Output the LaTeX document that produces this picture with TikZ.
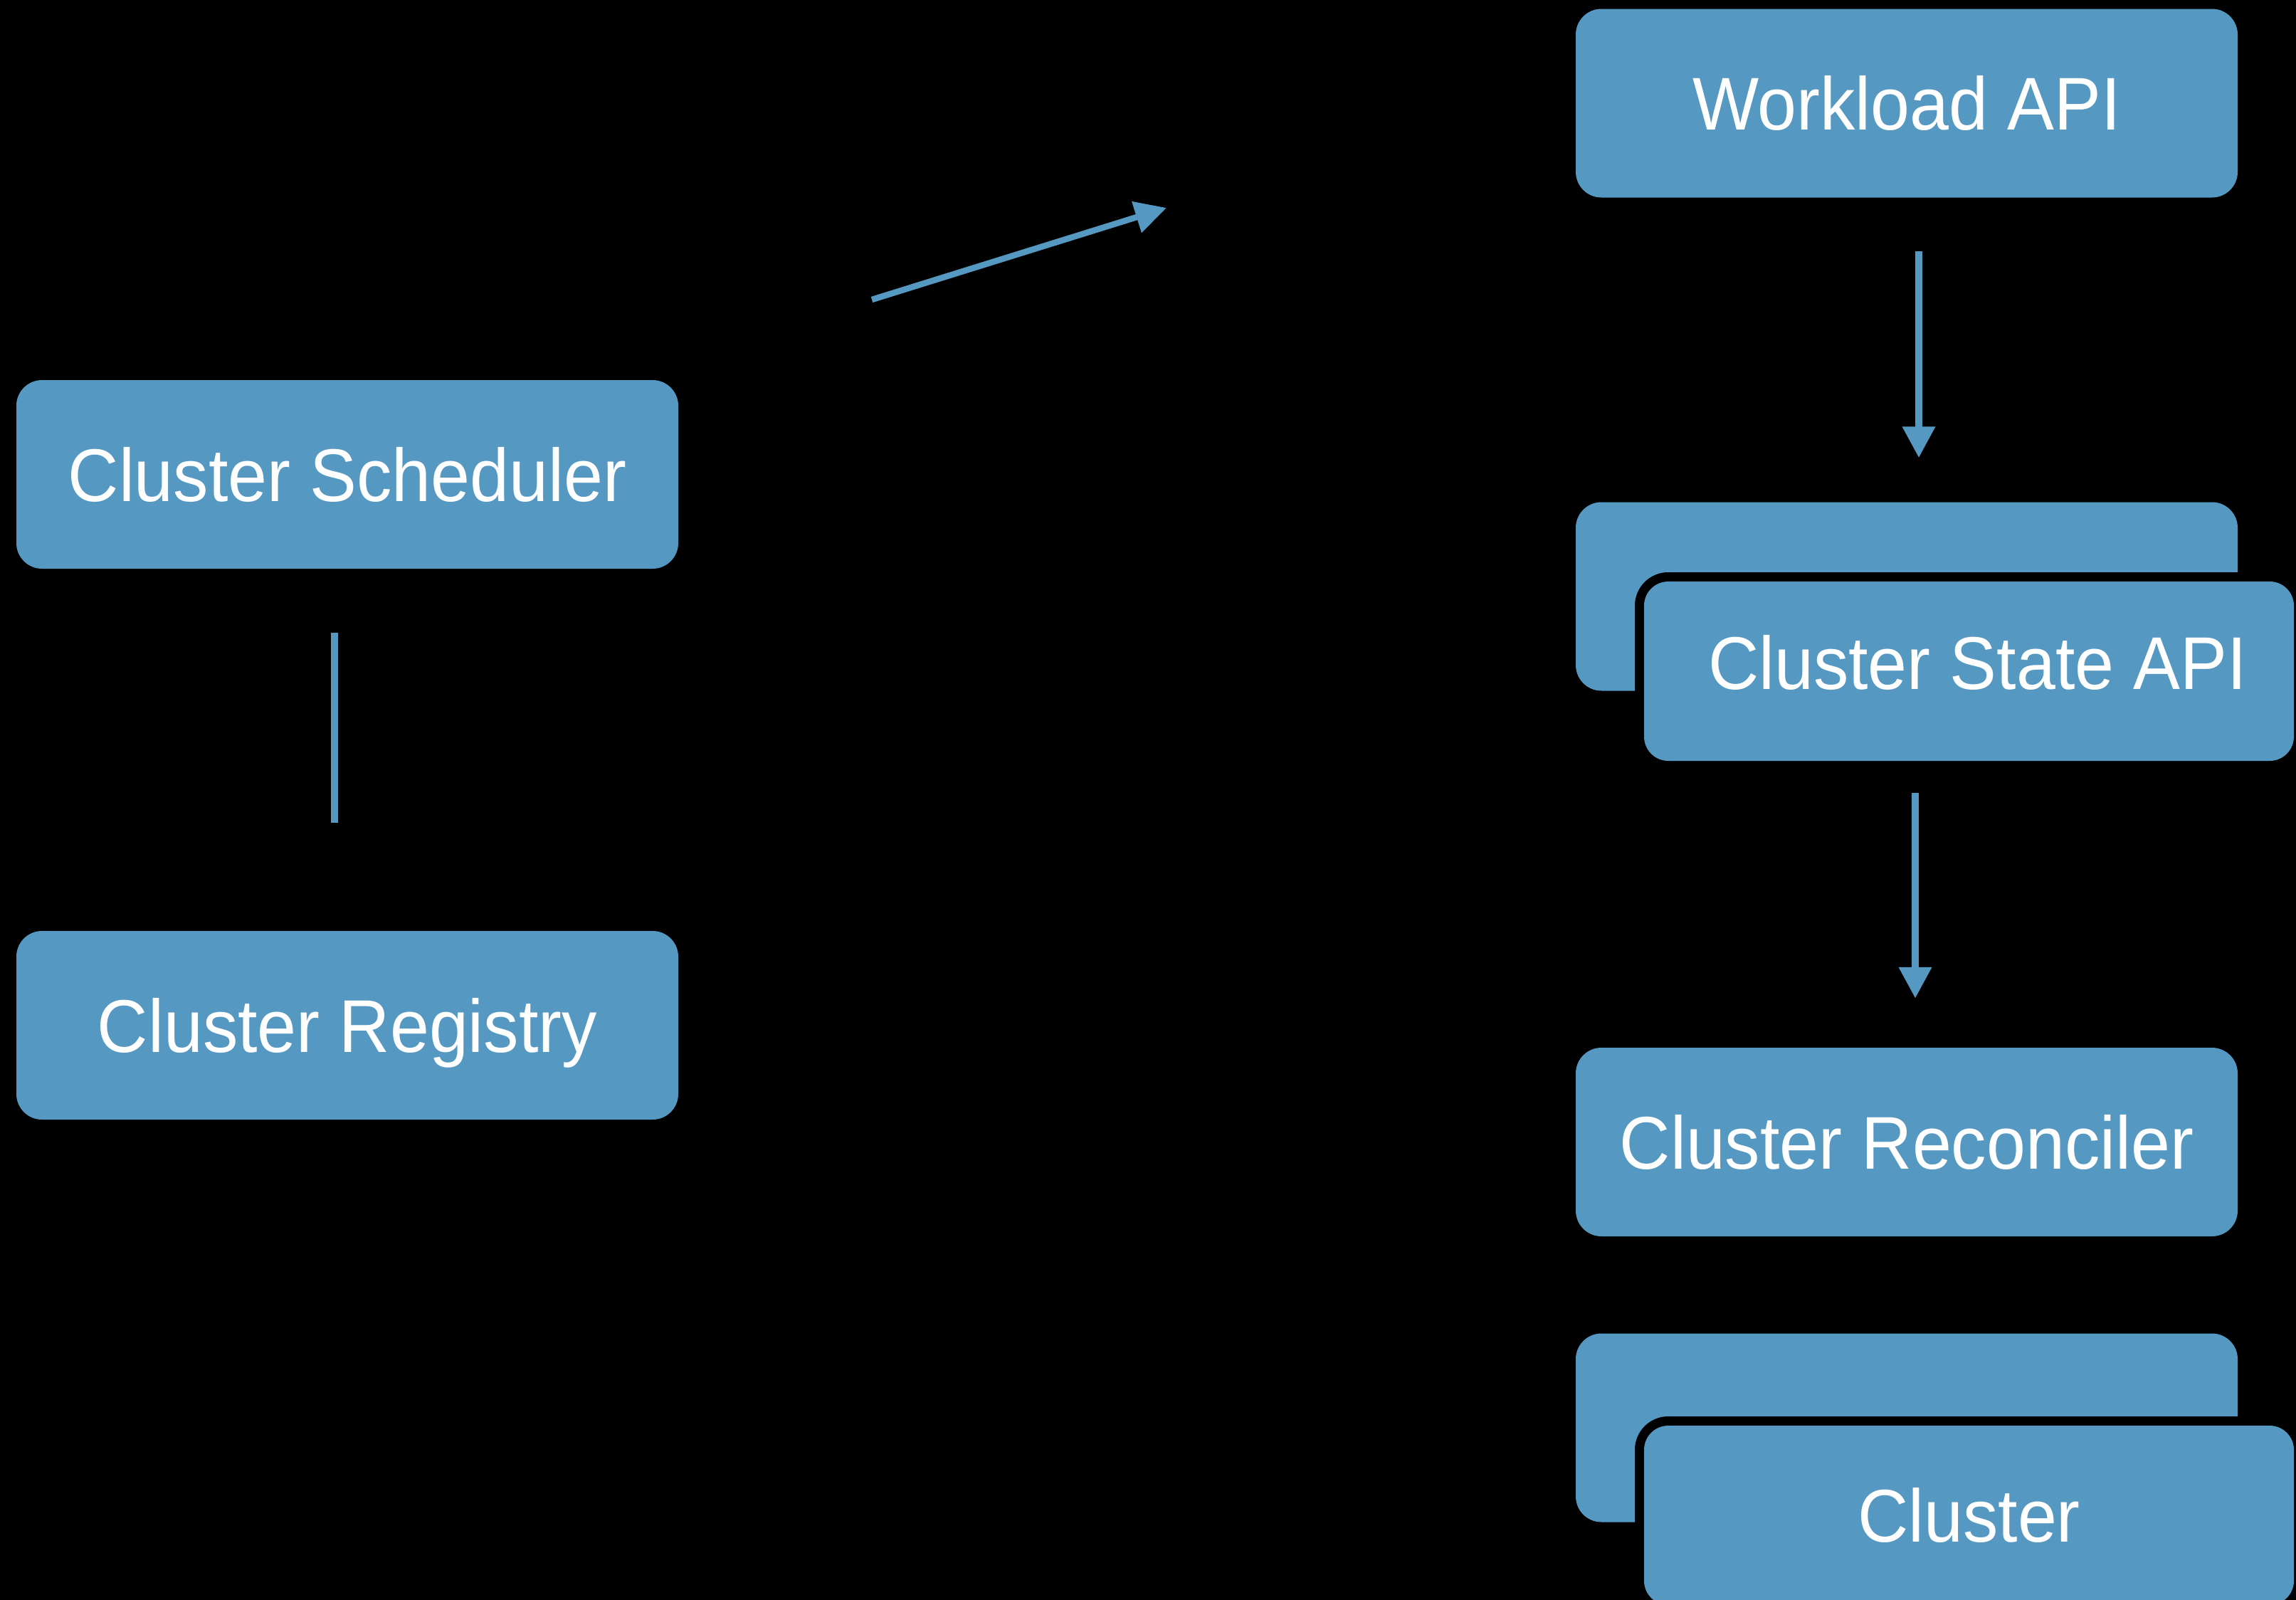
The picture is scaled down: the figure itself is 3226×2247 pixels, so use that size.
\documentclass[tikz,border=0pt]{standalone}
\usepackage{fontspec}
\setmainfont{Liberation Sans}[FakeStretch=0.94]
\usetikzlibrary{arrows.meta}
\definecolor{boxblue}{RGB}{85,152,194}
\begin{document}
\begin{tikzpicture}[x=1pt,y=-1pt,
  box/.style={rectangle, rounded corners=36pt, fill=boxblue, text=white, inner sep=0pt,
    minimum width=930pt, minimum height=265pt, font=\fontsize{105}{110}\selectfont,
    text height=75pt, text depth=0pt},
  frontbox/.style={box, minimum width=913pt, minimum height=252pt, rounded corners=34pt,
    preaction={fill=black, draw=black, line width=26pt}},
  conn/.style={draw=boxblue, line width=10pt},
  arr/.style={conn, -{Triangle[length=44pt,width=44pt]}}
]
\useasboundingbox (0,0) rectangle (3226,2247);
\fill[black] (-10,-10) rectangle (3236,2257);

\node[box] (wl) at (2679,145) {Workload API};
\node[box] (stback) at (2679,838) {};
\node[frontbox] (stfront) at (2766.5,943) {\hspace{24pt}\raisebox{12pt}{Cluster State API}};
\node[box] (rec) at (2679,1604.5) {Cluster Reconciler};
\node[box] (clback) at (2679,2006) {};
\node[frontbox] (clfront) at (2766.5,2129) {Cluster};
\node[box] (sched) at (488,666.5) {Cluster Scheduler};
\node[box] (reg) at (488,1440.5) {Cluster Registry};

\draw[arr, shorten <=75pt, shorten >=62pt] ([xshift=17pt]wl.south) -- ([xshift=17pt]stback.north);
\draw[arr, shorten <=45pt, shorten >=69pt] ([xshift=12pt]rec.north |- stfront.south) -- ([xshift=12pt]rec.north);
\draw[conn, shorten <=90pt, shorten >=152pt] ([xshift=-18pt]sched.south) -- ([xshift=-18pt]reg.north);

\coordinate (dA) at (1225,421);
\coordinate (dB) at (1639,292);
\draw[arr, line width=8.5pt] (dA) -- (dB);
\end{tikzpicture}
\end{document}
